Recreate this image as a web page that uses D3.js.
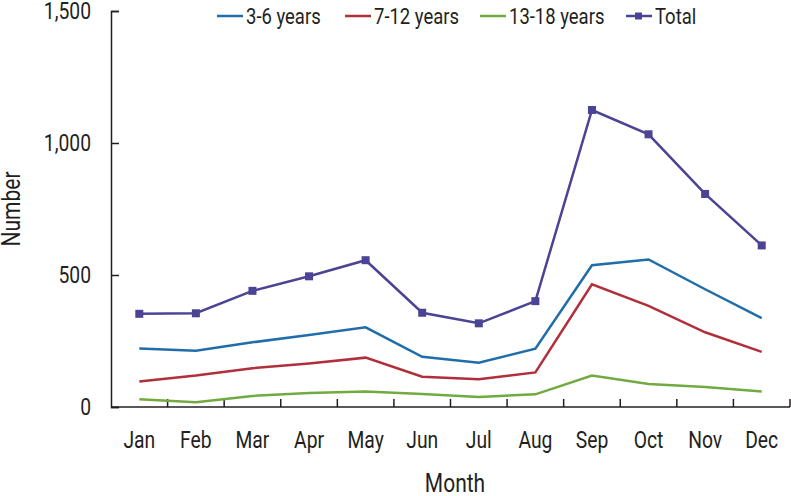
<!DOCTYPE html>
<html>
<head>
<meta charset="utf-8">
<script src="https://cdn.jsdelivr.net/npm/d3@7"></script>
<style>
  body { margin: 0; background: #fff; }
  svg text { font-family: "Liberation Sans Narrow", "Roboto", sans-serif; fill: #231f20; }
</style>
</head>
<body>
<div class="canvas"></div>
<script>
// data
const months = ['Jan', 'Feb', 'Mar', 'Apr', 'May', 'Jun', 'Jul', 'Aug', 'Sep', 'Oct', 'Nov', 'Dec'];
const age3to6 = [222, 213, 245, 273, 302, 190, 168, 221, 537, 559, 446, 337];
const age7to12 = [97, 119, 147, 165, 187, 115, 105, 131, 465, 383, 283, 209];
const age13to18 = [29, 18, 42, 53, 59, 49, 38, 48, 119, 87, 76, 59];
const total = [353, 355, 440, 495, 556, 357, 317, 401, 1125, 1033, 807, 612];
const yTicks = [0, 500, 1000, 1500];

const series = [
  { name: '3-6 years', values: age3to6, colour: '#1f6eaa', marker: false },
  { name: '7-12 years', values: age7to12, colour: '#b12f3b', marker: false },
  { name: '13-18 years', values: age13to18, colour: '#71ab3f', marker: false },
  { name: 'Total', values: total, colour: '#4b4394', marker: true }
];

const dims = { width: 791, height: 496 };
const margin = { top: 11, right: 1, bottom: 89, left: 111 };
const inner = { w: dims.width - margin.left - margin.right, h: dims.height - margin.top - margin.bottom };
const squeeze = 0.84; // fake a condensed face

const svg = d3.select('.canvas')
  .append('svg')
  .attr('width', dims.width)
  .attr('height', dims.height);

// text helper: narrow glyphs by scaling x around the anchor point
const label = (parent, x0, y0, txt, size, anchor, rot) => parent.append('text')
  .attr('transform', `translate(${x0}, ${y0})${rot ? ` rotate(${rot})` : ''} scale(${squeeze}, 1)`)
  .attr('text-anchor', anchor)
  .style('font-size', size + 'px')
  .text(txt);

const graph = svg.append('g')
  .attr('transform', `translate(${margin.left}, ${margin.top})`);

const x = d3.scaleBand().domain(months).range([0, inner.w]);
const y = d3.scaleLinear().domain([0, 1500]).range([inner.h, 0]);

// y axis, ticks pointing inward, labels drawn by hand
const yAxis = graph.append('g')
  .call(d3.axisLeft(y).tickValues(yTicks).tickSize(-8).tickFormat(''));
yAxis.select('.domain').attr('stroke', '#231f20').attr('stroke-width', 1.5);
yAxis.selectAll('.tick line').attr('stroke', '#231f20').attr('stroke-width', 1.5);
yTicks.forEach(t => label(graph, -20, y(t) + 8, d3.format(',')(t), 23, 'end'));

// x axis, ticks at band boundaries pointing up
const xAxisG = graph.append('g').attr('transform', `translate(0, ${inner.h})`);
xAxisG.append('line')
  .attr('x1', 0).attr('x2', inner.w)
  .attr('stroke', '#231f20').attr('stroke-width', 1.5);
xAxisG.selectAll('line.tick')
  .data(months)
  .enter().append('line')
  .attr('class', 'tick')
  .attr('x1', d => x(d) + x.bandwidth())
  .attr('x2', d => x(d) + x.bandwidth())
  .attr('y1', 0).attr('y2', -8)
  .attr('stroke', '#231f20').attr('stroke-width', 1.5);
months.forEach(m => label(xAxisG, x(m) + x.bandwidth() / 2, 41, m, 23, 'middle'));

// lines
const line = d3.line()
  .x((d, i) => x(months[i]) + x.bandwidth() / 2)
  .y(d => y(d));

series.forEach(s => {
  graph.append('path')
    .datum(s.values)
    .attr('fill', 'none')
    .attr('stroke', s.colour)
    .attr('stroke-width', 2.5)
    .attr('d', line);
  if (s.marker) {
    graph.selectAll(null)
      .data(s.values)
      .enter().append('rect')
      .attr('x', (d, i) => x(months[i]) + x.bandwidth() / 2 - 4)
      .attr('y', d => y(d) - 4)
      .attr('width', 8).attr('height', 8)
      .attr('fill', s.colour);
  }
});

// legend
const legendX = [217, 345, 480, 626];
const legend = svg.append('g').attr('transform', 'translate(0, 16)');
series.forEach((s, i) => {
  const g = legend.append('g').attr('transform', `translate(${legendX[i]}, 0)`);
  g.append('line').attr('x1', 0).attr('x2', 26).attr('stroke', s.colour).attr('stroke-width', 2.5);
  if (s.marker) {
    g.append('rect').attr('x', 9).attr('y', -3.5).attr('width', 7).attr('height', 7).attr('fill', s.colour);
  }
  label(g, 29, 8, s.name, 22, 'start');
});

// axis titles
label(svg, 20, margin.top + inner.h / 2, 'Number', 25, 'middle', -90);
label(svg, 455, 492, 'Month', 25, 'middle');
</script>
</body>
</html>
